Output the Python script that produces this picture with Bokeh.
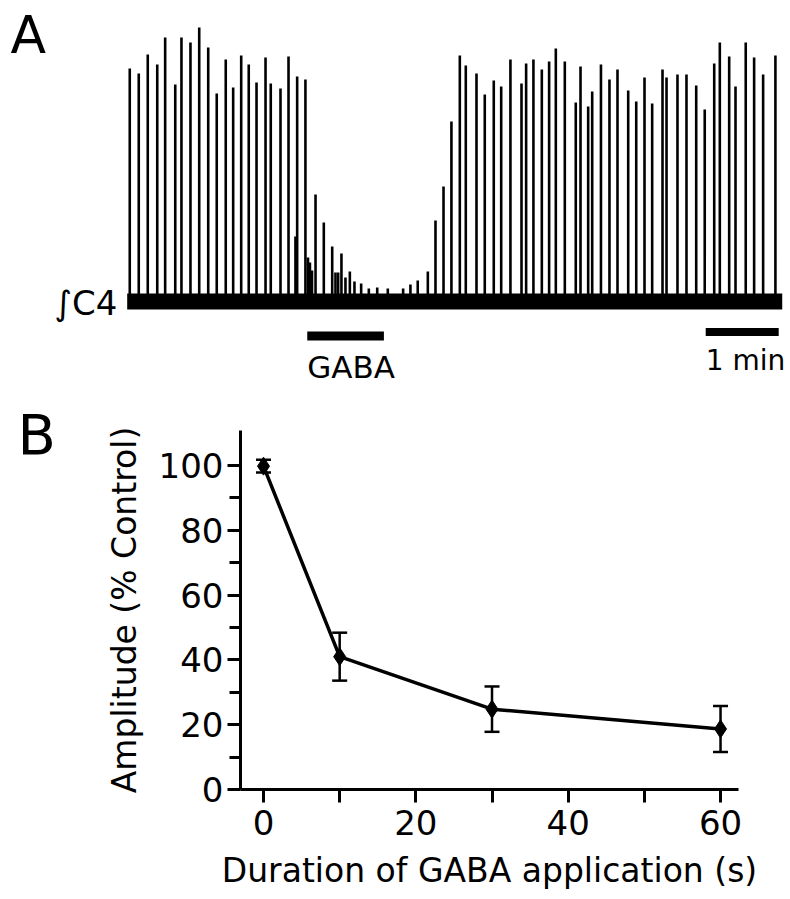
from bokeh.plotting import figure
from bokeh.layouts import column, row
from bokeh.models import Range1d, FixedTicker, ColumnDataSource, Whisker, TeeHead
from bokeh.core.properties import value
from bokeh.embed import file_html
from bokeh.resources import INLINE

FONT = "DejaVu Sans"

# ---------------- Panel A data: integrated C4 bursts ----------------
# burst times (s from start of trace) and burst amplitudes (a.u.)
burst_t = [2.1, 9.5, 16.9, 24.7, 31.2, 39.5, 44.6, 52.0, 59.2, 66.6,
           73.6, 81.0, 87.1, 93.7, 99.9, 106.3, 113.7, 118.0, 126.0, 132.6,
           138.3, 139.7, 146.5, 148.6, 150.2, 151.9, 154.8, 161.6, 168.5, 171.2,
           173.4, 176.1, 179.4, 183.0, 186.8, 192.3, 198.6, 205.5, 214.2, 226.8,
           232.8, 238.8, 247.1, 253.4, 260.0, 266.5, 273.4, 278.3, 287.1, 293.9,
           301.3, 307.4, 315.0, 324.1, 327.9, 333.9, 340.8, 346.8, 352.3, 359.7,
           368.7, 372.6, 378.9, 382.2, 389.4, 396.4, 403.0, 411.8, 418.4, 425.2,
           431.5, 440.0, 443.3, 452.3, 459.7, 467.7, 474.7, 482.5, 487.1, 494.8,
           500.0, 508.4, 515.3, 522.7, 532.8]
burst_h = [233, 228, 247, 237, 264, 217, 264, 259, 274, 254,
           208, 242, 214, 246, 237, 219, 244, 218, 213, 245,
           65, 225, 222, 44, 39, 31, 107, 79, 55, 29,
           29, 48, 24, 30, 20, 18, 13, 14, 13, 13,
           17, 21, 30, 81, 115, 180, 246, 236, 228, 207,
           221, 215, 242, 218, 238, 242, 232, 240, 253, 240,
           199, 235, 195, 210, 237, 222, 232, 211, 200, 224,
           198, 232, 224, 227, 227, 216, 192, 238, 259, 245,
           215, 259, 244, 227, 246]
trace_start = 0.0
trace_end = 538.4
gaba_on = 148.0
gaba_off = 211.0
scale_bar_s = 60.0
scale_bar_end = 535.5

# ---------------- Panel B data ----------------
duration_s = [0, 10, 30, 60]
amplitude_pct = [99.8, 41.0, 24.8, 18.7]
sem_pct = [2.0, 7.4, 7.0, 7.1]
x_ticks = [0, 20, 40, 60]
x_minor = [10, 30, 50]
y_ticks = [0, 20, 40, 60, 80, 100]
y_minor = [10, 30, 50, 70, 90]

# ================= Panel A =================
pA = figure(width=790, height=386, output_backend="svg", toolbar_location=None,
            x_range=Range1d(-104.14, 545.2), y_range=Range1d(-85, 301),
            x_axis_location=None, y_axis_location=None,
            min_border=0, outline_line_color=None, frame_align=False)
pA.grid.visible = False

srcA = ColumnDataSource(dict(t=burst_t, h=burst_h, z=[0] * len(burst_t)))
# baseline noise band
pA.line(x=[trace_start, trace_end], y=[0, 0], line_width=16, line_color="black")
pA.segment(x0="t", y0="z", x1="t", y1="h", source=srcA, line_width=2.6, line_color="black")

# GABA bar and 1 min scale bar
pA.segment(x0=[gaba_on], y0=[-34.5], x1=[gaba_off], y1=[-34.5], line_width=9, line_color="black")
pA.segment(x0=[scale_bar_end - scale_bar_s], y0=[-30.5], x1=[scale_bar_end], y1=[-30.5],
           line_width=8, line_color="black")

pA.text(x=[gaba_on], y=[-65.5], text=["GABA"], text_font=value(FONT), text_font_size="31px",
        text_align="left", text_baseline="alphabetic", text_color="black")
pA.text(x=[scale_bar_end - scale_bar_s], y=[-59], text=["1 min"], text_font=value(FONT),
        text_font_size="28px", text_align="left", text_baseline="alphabetic", text_color="black")
pA.text(x=[-8.0], y=[-1.5], text=["\u222bC4"], text_font=value(FONT), text_font_size="34px",
        text_align="right", text_baseline="alphabetic", text_color="black")
pA.text(x=[-95.9], y=[267], text=["A"], text_font=value(FONT), text_font_size="52px",
        text_align="left", text_baseline="alphabetic", text_color="black")

# ================= Panel B letter strip =================
pBL = figure(width=100, height=511, output_backend="svg", toolbar_location=None,
             x_range=Range1d(0, 100), y_range=Range1d(0, 511),
             x_axis_location=None, y_axis_location=None,
             min_border=0, outline_line_color=None, frame_align=False)
pBL.grid.visible = False
pBL.text(x=[17], y=[463], text=["B"], text_font=value(FONT), text_font_size="56px",
         text_align="left", text_baseline="alphabetic", text_color="black")

# ================= Panel B =================
pB = figure(width=690, height=511, output_backend="svg", toolbar_location=None,
            x_range=Range1d(-3.02, 62.36), y_range=Range1d(0, 110.8),
            min_border_left=140, min_border_right=52, min_border_top=44, min_border_bottom=108,
            outline_line_color=None, frame_align=False)
pB.grid.visible = False

for ax in (pB.xaxis[0], pB.yaxis[0]):
    ax.axis_line_width = 3
    ax.major_tick_line_width = 3
    ax.minor_tick_line_width = 3
    ax.major_tick_in = 0
    ax.minor_tick_in = 0
    ax.major_tick_out = 13
    ax.major_label_text_font = FONT
    ax.major_label_text_font_size = "34px"
    ax.major_label_text_color = "black"
    ax.axis_label_text_font = FONT
    ax.axis_label_text_font_size = "33px"
    ax.axis_label_text_font_style = "normal"
    ax.axis_label_text_color = "black"

pB.xaxis[0].ticker = FixedTicker(ticks=x_ticks, minor_ticks=x_minor)
pB.xaxis[0].minor_tick_out = 13
pB.xaxis[0].major_label_standoff = 7
pB.xaxis[0].axis_label = "Duration of GABA application (s)"
pB.xaxis[0].axis_label_standoff = 13

pB.yaxis[0].ticker = FixedTicker(ticks=y_ticks, minor_ticks=y_minor)
pB.yaxis[0].minor_tick_out = 11
pB.yaxis[0].major_label_standoff = 4
pB.yaxis[0].axis_label = "Amplitude (% Control)"
pB.yaxis[0].axis_label_standoff = 12

srcB = ColumnDataSource(dict(
    x=duration_s, y=amplitude_pct,
    upper=[a + s for a, s in zip(amplitude_pct, sem_pct)],
    lower=[a - s for a, s in zip(amplitude_pct, sem_pct)],
))
pB.line(x="x", y="y", source=srcB, line_width=3.5, line_color="black")
pB.add_layout(Whisker(base="x", upper="upper", lower="lower", source=srcB,
                      line_width=2.5, line_color="black",
                      upper_head=TeeHead(size=15, line_width=2.5, line_color="black"),
                      lower_head=TeeHead(size=15, line_width=2.5, line_color="black")))
pB.scatter(x="x", y="y", source=srcB, marker="diamond", size=18, color="black")

layout = column(pA, row(pBL, pB, spacing=0), spacing=0)
open("out.html", "w").write(file_html(layout, INLINE))
